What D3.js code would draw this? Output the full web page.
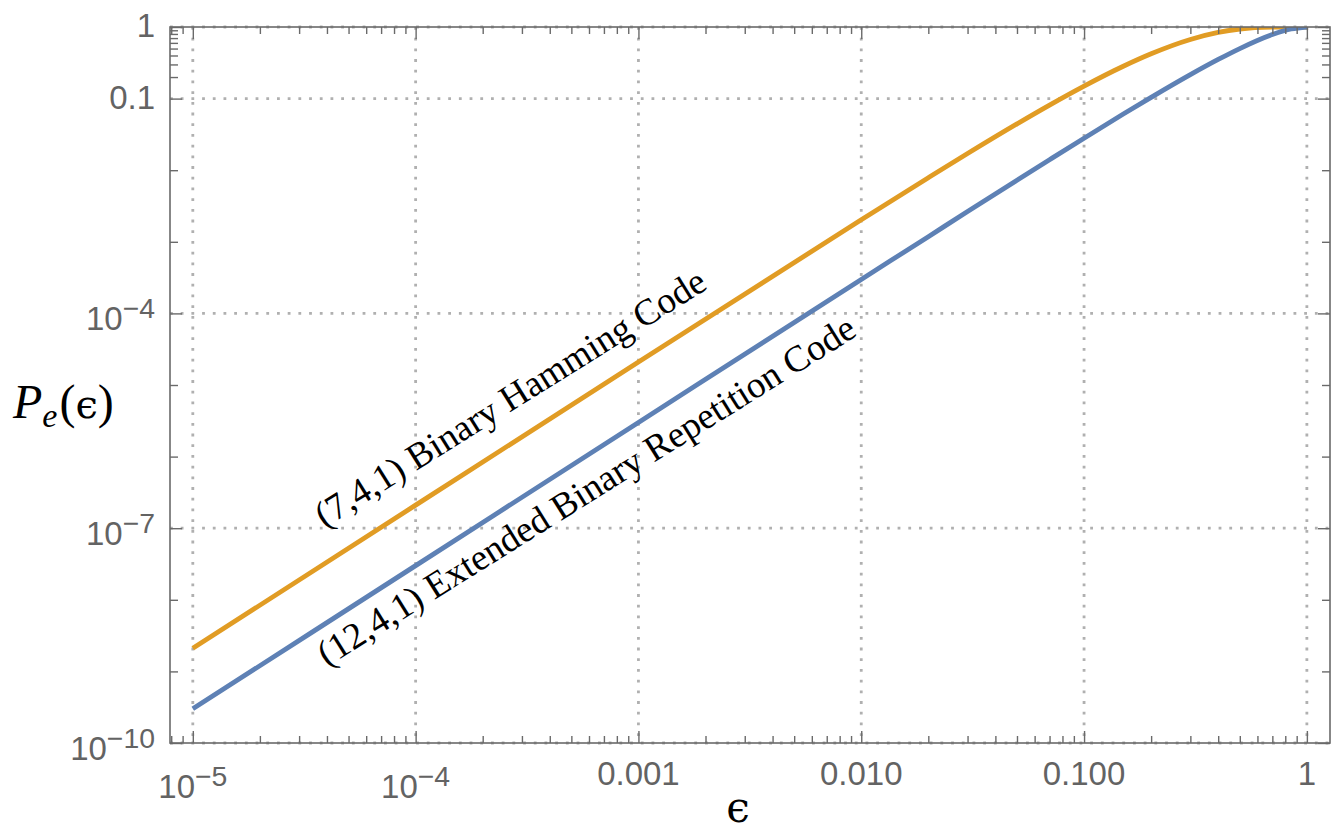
<!DOCTYPE html>
<html>
<head>
<meta charset="utf-8">
<script src="https://cdn.jsdelivr.net/npm/d3@7"></script>
<style>
  body { margin: 0; background: #fff; }
  svg { display: block; }
</style>
</head>
<body>
<div id="chart"></div>
<script>
// error probability vs channel flip probability
const eps = [1e-5, 1e-4, 1e-3, 0.01, 0.02, 0.03, 0.05, 0.07, 0.1, 0.15, 0.2, 0.3, 0.4, 0.5, 0.7, 0.85, 1];
const hamming = [2.1e-9, 2.1e-7, 2.09e-5, 0.00203, 0.00785, 0.0171, 0.0444, 0.0813, 0.1497, 0.2834, 0.4233, 0.6706, 0.8414, 0.9375, 0.9958, 0.9999, 1];
const repetition = [3.0e-10, 3.0e-8, 3.0e-6, 2.98e-4, 0.00118, 0.00265, 0.00725, 0.0140, 0.028, 0.0608, 0.104, 0.216, 0.352, 0.5, 0.784, 0.939, 1];

const seriesNames = ["(7,4,1) Binary Hamming Code", "(12,4,1) Extended Binary Repetition Code"];
// where each rotated label starts (data coords)
const labelAt = [[3.9e-5, 1.0e-7], [4.0e-5, 1.15e-9]];

// ticks
const xMajor = [1e-5, 1e-4, 1e-3, 0.01, 0.1, 1];
const xTickBase = ["10", "10", "0.001", "0.010", "0.100", "1"];
const xTickSup = ["\u22125", "\u22124", "", "", "", ""];
const xMinor = [8e-6, 9e-6,
  2e-5, 3e-5, 4e-5, 5e-5, 6e-5, 7e-5, 8e-5, 9e-5,
  2e-4, 3e-4, 4e-4, 5e-4, 6e-4, 7e-4, 8e-4, 9e-4,
  0.002, 0.003, 0.004, 0.005, 0.006, 0.007, 0.008, 0.009,
  0.02, 0.03, 0.04, 0.05, 0.06, 0.07, 0.08, 0.09,
  0.2, 0.3, 0.4, 0.5, 0.6, 0.7, 0.8, 0.9];

const yMajor = [1, 0.1, 1e-4, 1e-7, 1e-10];
const yTickBase = ["1", "0.1", "10", "10", "10"];
const yTickSup = ["", "", "\u22124", "\u22127", "\u221210"];
const yMinor = [0.2, 0.3, 0.4, 0.5, 0.6, 0.7, 0.8, 0.9, 0.01, 0.001, 1e-5, 1e-6, 1e-8, 1e-9];

const W = 1337, H = 837;
const margin = {top: 27, right: 7, bottom: 94, left: 170};
const plotW = W - margin.left - margin.right;
const plotH = H - margin.top - margin.bottom;

const colors = ["#E19C24", "#5E81B5"];
const axisGray = "#6a6a6a";
const labelGray = "#636363";
const fs = 33;

const svg = d3.select("#chart").append("svg")
  .attr("width", W).attr("height", H);

const x = d3.scaleLog().domain([7.9e-6, 1.27]).range([0, plotW]);
const y = d3.scaleLog().domain([1e-10, 1]).range([plotH, 0]);

const g = svg.append("g")
  .attr("transform", "translate(" + margin.left + "," + margin.top + ")");

g.append("clipPath").attr("id", "clip")
  .append("rect").attr("width", plotW).attr("height", plotH);

// dotted grid
const grid = g.append("g")
  .attr("stroke", "#b0b0b0")
  .attr("stroke-width", 2.8)
  .attr("stroke-dasharray", "2.8,7.9");
grid.selectAll(".vx").data(xMajor).join("line")
  .attr("x1", d => x(d)).attr("x2", d => x(d))
  .attr("y1", 0).attr("y2", plotH);
grid.selectAll(".hy").data(yMajor).join("line")
  .attr("y1", d => y(d)).attr("y2", d => y(d))
  .attr("x1", 0).attr("x2", plotW);

// curves
const line = d3.line()
  .x(d => x(d[0]))
  .y(d => y(d[1]))
  .curve(d3.curveMonotoneX);

[hamming, repetition].forEach((vals, i) => {
  g.append("path")
    .datum(eps.map((e, j) => [e, vals[j]]))
    .attr("clip-path", "url(#clip)")
    .attr("fill", "none")
    .attr("stroke", colors[i])
    .attr("stroke-width", 4.8)
    .attr("d", line);
});

// frame ticks
function styleAxis(sel) {
  sel.select(".domain").remove();
  sel.selectAll(".tick line").attr("stroke", axisGray).attr("stroke-width", 1.4);
  sel.selectAll(".tick text").remove();
}
const big = 12, small = 7;
g.append("g").attr("transform", "translate(0," + plotH + ")")
  .call(d3.axisBottom(x).tickValues(xMajor).tickSize(-big).tickSizeOuter(0)).call(styleAxis);
g.append("g").attr("transform", "translate(0," + plotH + ")")
  .call(d3.axisBottom(x).tickValues(xMinor).tickSize(-small).tickSizeOuter(0)).call(styleAxis);
g.append("g")
  .call(d3.axisTop(x).tickValues(xMajor).tickSize(-big).tickSizeOuter(0)).call(styleAxis);
g.append("g")
  .call(d3.axisTop(x).tickValues(xMinor).tickSize(-small).tickSizeOuter(0)).call(styleAxis);
g.append("g")
  .call(d3.axisLeft(y).tickValues(yMajor).tickSize(-big).tickSizeOuter(0)).call(styleAxis);
g.append("g")
  .call(d3.axisLeft(y).tickValues(yMinor).tickSize(-8).tickSizeOuter(0)).call(styleAxis);
g.append("g").attr("transform", "translate(" + plotW + ",0)")
  .call(d3.axisRight(y).tickValues(yMajor).tickSize(-big).tickSizeOuter(0)).call(styleAxis);
g.append("g").attr("transform", "translate(" + plotW + ",0)")
  .call(d3.axisRight(y).tickValues(yMinor).tickSize(-8).tickSizeOuter(0)).call(styleAxis);

// frame
g.append("rect")
  .attr("width", plotW).attr("height", plotH)
  .attr("fill", "none")
  .attr("stroke", axisGray)
  .attr("stroke-width", 1.6);

// tick labels
const xl = g.append("g")
  .attr("font-family", "'Liberation Sans', Arial, sans-serif")
  .attr("font-size", fs)
  .attr("fill", labelGray)
  .attr("text-anchor", "middle");
xMajor.forEach((v, i) => {
  const t = xl.append("text")
    .attr("x", x(v))
    .attr("y", plotH + (xTickSup[i] ? 55 : 42));
  t.append("tspan").text(xTickBase[i]);
  if (xTickSup[i]) t.append("tspan").attr("dy", -12).attr("font-size", fs * 0.86).text(xTickSup[i]);
});

const yl = g.append("g")
  .attr("font-family", "'Liberation Sans', Arial, sans-serif")
  .attr("font-size", fs)
  .attr("fill", labelGray)
  .attr("text-anchor", "end");
yMajor.forEach((v, i) => {
  const t = yl.append("text")
    .attr("x", -15)
    .attr("y", y(v) + (yTickSup[i] ? 17 : 10));
  t.append("tspan").text(yTickBase[i]);
  if (yTickSup[i]) t.append("tspan").attr("dy", -12).attr("font-size", fs * 0.86).text(yTickSup[i]);
});

// rotated curve labels, roughly following the straight part
const ang = -32;
seriesNames.forEach((name, i) => {
  const px = x(labelAt[i][0]), py = y(labelAt[i][1]);
  g.append("text")
    .attr("transform", "translate(" + px + "," + py + ") rotate(" + ang + ")")
    .attr("font-family", "'Liberation Serif', 'Times New Roman', serif")
    .attr("font-size", 37)
    .attr("fill", "#000")
    .text(name);
});

// axis titles
svg.append("text")
  .attr("x", 738).attr("y", 822)
  .attr("text-anchor", "middle")
  .attr("font-family", "'DejaVu Serif', 'Liberation Serif', serif")
  .attr("font-size", 42)
  .attr("fill", "#000")
  .text("\u03F5");

const yt = svg.append("text")
  .attr("x", 13).attr("y", 418)
  .attr("font-family", "'Liberation Serif', 'Times New Roman', serif")
  .attr("font-size", 48)
  .attr("fill", "#000");
yt.append("tspan").attr("font-style", "italic").text("P");
yt.append("tspan").attr("font-style", "italic").attr("font-size", 34).attr("dy", 9).text("e");
yt.append("tspan").attr("dy", -9).attr("dx", 2).text("(");
yt.append("tspan").attr("font-family", "'DejaVu Serif', serif").attr("font-size", 40).text("\u03F5");
yt.append("tspan").text(")");
</script>
</body>
</html>
